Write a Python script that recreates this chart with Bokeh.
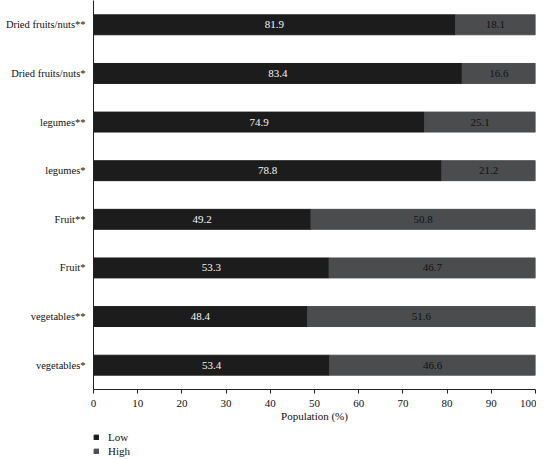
from bokeh.plotting import figure
from bokeh.models import ColumnDataSource, Range1d, Legend, LegendItem, FixedTicker
from bokeh.layouts import column
from bokeh.core.properties import value
from bokeh.embed import file_html
from bokeh.resources import INLINE

# Data (bottom to top)
categories = ["vegetables*", "vegetables**", "Fruit*", "Fruit**",
              "legumes*", "legumes**", "Dried fruits/nuts*", "Dried fruits/nuts**"]
low = [53.4, 48.4, 53.3, 49.2, 78.8, 74.9, 83.4, 81.9]
high = [46.6, 51.6, 46.7, 50.8, 21.2, 25.1, 16.6, 18.1]
series = ["Low", "High"]
x_ticks = [0, 10, 20, 30, 40, 50, 60, 70, 80, 90, 100]

FONT = "Liberation Serif"
C_LOW = "#1c1c1c"
C_HIGH = "#4b4c4e"

pos = list(range(len(categories)))
src = ColumnDataSource(dict(
    y=pos,
    low=low,
    high=high,
    zero=[0] * len(low),
    total=[l + h for l, h in zip(low, high)],
    low_mid=[l / 2 for l in low],
    high_mid=[l + h / 2 for l, h in zip(low, high)],
    low_txt=[f"{v:.1f}" for v in low],
    high_txt=[f"{v:.1f}" for v in high],
))

p = figure(frame_width=442, frame_height=389, output_backend="svg", toolbar_location=None,
           x_range=Range1d(0, 100), y_range=Range1d(-0.5, 7.5),
           min_border_left=93, min_border_right=1, min_border_top=0, min_border_bottom=36)

p.hbar(y="y", left="zero", right="low", height=0.41, source=src,
       fill_color=C_LOW, line_color=C_LOW)
p.hbar(y="y", left="low", right="total", height=0.41, source=src,
       fill_color=C_HIGH, line_color=C_HIGH)

p.text(x="low_mid", y="y", text="low_txt", source=src, text_color="#f4f4f4",
       text_font=value(FONT), text_font_size="11px",
       text_align="center", text_baseline="middle")
p.text(x="high_mid", y="y", text="high_txt", source=src, text_color="#111111",
       text_font=value(FONT), text_font_size="11px",
       text_align="center", text_baseline="middle")

p.xgrid.visible = False
p.ygrid.visible = False
p.outline_line_color = None

xa = p.xaxis[0]
xa.ticker = FixedTicker(ticks=x_ticks)
xa.axis_label = "Population (%)"
xa.axis_label_text_font = FONT
xa.axis_label_text_font_style = "normal"
xa.axis_label_text_font_size = "11px"
xa.axis_label_text_color = "#111111"
xa.axis_label_standoff = 0
xa.major_label_text_font = FONT
xa.major_label_text_font_size = "11px"
xa.major_label_text_color = "#111111"
xa.major_label_standoff = 6
xa.major_tick_in = 0
xa.major_tick_out = 4
xa.minor_tick_line_color = None
xa.axis_line_color = "#222222"
xa.major_tick_line_color = "#222222"

ya = p.yaxis[0]
ya.ticker = FixedTicker(ticks=pos)
ya.major_label_overrides = {i: c for i, c in zip(pos, categories)}
ya.major_label_text_font = FONT
ya.major_label_text_font_size = "10.5px"
ya.major_label_text_color = "#111111"
ya.major_label_standoff = 8
ya.major_tick_in = 0
ya.major_tick_out = 0
ya.major_tick_line_color = None
ya.minor_tick_line_color = None
ya.axis_line_color = "#222222"

# Legend in a small strip below the chart (frame aligned with the chart's frame)
lg = figure(width=536, height=33, output_backend="svg", toolbar_location=None,
            x_range=Range1d(0, 1), y_range=Range1d(0, 1),
            x_axis_location=None, y_axis_location=None,
            min_border_left=0, min_border_right=0, min_border_top=0, min_border_bottom=0)
lg.xgrid.visible = False
lg.ygrid.visible = False
lg.outline_line_color = None
rl = lg.hbar(y=[-10], left=[0], right=[1], height=0.5, fill_color=C_LOW, line_color=C_LOW)
rh = lg.hbar(y=[-10], left=[0], right=[1], height=0.5, fill_color=C_HIGH, line_color=C_HIGH)
legend = Legend(items=[LegendItem(label=series[0], renderers=[rl]),
                       LegendItem(label=series[1], renderers=[rh])],
                orientation="vertical", location=(0, 1),
                label_text_font=FONT, label_text_font_size="11px",
                label_text_color="#111111",
                glyph_width=6, glyph_height=6, label_height=13,
                label_standoff=9, spacing=1, padding=0, margin=0,
                border_line_color=None, background_fill_alpha=0)
lg.add_layout(legend, "center")

open("out.html", "w").write(file_html(column(p, lg, spacing=0), INLINE))
